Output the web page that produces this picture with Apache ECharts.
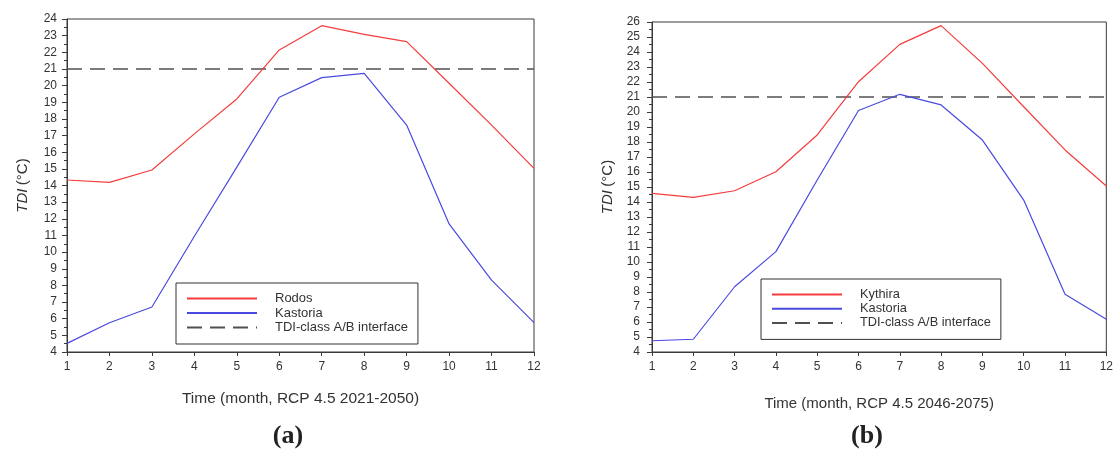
<!DOCTYPE html>
<html>
<head>
<meta charset="utf-8">
<script src="https://cdn.jsdelivr.net/npm/echarts@6/dist/echarts.min.js"></script>
<style>
  html, body { margin: 0; padding: 0; background: #fff; }
  #chart { width: 1116px; height: 449px; }
</style>
</head>
<body>
<div id="chart"></div>
<script>
// Monthly TDI values (°C), RCP 4.5
const months = [1, 2, 3, 4, 5, 6, 7, 8, 9, 10, 11, 12];

// Panel (a): 2021-2050
const rodos      = [14.33, 14.19, 14.93, 17.10, 19.20, 22.14, 23.60, 23.08, 22.64, 20.14, 17.63, 15.03];
const kastoriaA  = [4.52, 5.76, 6.70, 10.95, 15.10, 19.30, 20.48, 20.74, 17.63, 11.69, 8.32, 5.76];

// Panel (b): 2046-2075
const kythira    = [14.58, 14.31, 14.75, 16.02, 18.47, 22.02, 24.51, 25.76, 23.24, 20.35, 17.47, 15.07];
const kastoriaB  = [4.75, 4.85, 8.35, 10.69, 15.47, 20.10, 21.18, 20.47, 18.13, 14.13, 7.85, 6.18];

// TDI-class A/B interface
const classLimit = 21;

// Axis ranges
const xRange  = [1, 12];
const yRangeA = [4, 24];
const yRangeB = [4, 26];

const xTitleA = 'Time (month, RCP 4.5 2021-2050)';
const xTitleB = 'Time (month, RCP 4.5 2046-2075)';
const limitName = 'TDI-class A/B interface';

const RED = '#f53c3c';
const BLUE = '#4a4ae0';
const DASH = '#505050';
const AXIS = '#3a3a3a';
const FONT = '"Liberation Sans", Arial, sans-serif';

const pairs = (ys) => months.map((m, i) => [m, ys[i]]);

function xAxisCfg(grid, title, fs, gap) {
  return {
    type: 'value', gridIndex: grid, min: xRange[0], max: xRange[1], interval: 1,
    name: title, nameLocation: 'middle', nameGap: gap,
    nameTextStyle: { fontFamily: FONT, fontSize: fs, color: '#333' },
    axisLine: { show: true, lineStyle: { color: AXIS, width: 1 } },
    axisTick: { show: true, inside: false, length: 4, lineStyle: { color: AXIS } },
    axisLabel: { fontFamily: FONT, fontSize: 12, color: '#333', margin: 9 },
    splitLine: { show: false }
  };
}

function yAxisCfg(grid, range, fs, margin) {
  return {
    type: 'value', gridIndex: grid, min: range[0], max: range[1], interval: 1,
    name: '{i|TDI} {n|(°C)}', nameLocation: 'middle', nameGap: 37, nameRotate: 90,
    nameTextStyle: {
      rich: {
        i: { fontFamily: FONT, fontSize: fs, fontStyle: 'italic', color: '#333' },
        n: { fontFamily: FONT, fontSize: fs, color: '#333' }
      }
    },
    axisLine: { show: true, lineStyle: { color: AXIS, width: 1 } },
    axisTick: { show: true, inside: false, length: 5, lineStyle: { color: AXIS } },
    minorTick: { show: true, splitNumber: 2, length: 3, lineStyle: { color: AXIS } },
    axisLabel: { fontFamily: FONT, fontSize: 12, color: '#333', margin: margin },
    splitLine: { show: false }
  };
}

function lineSeries(name, grid, ys, color) {
  return {
    name, type: 'line', xAxisIndex: grid, yAxisIndex: grid,
    data: pairs(ys), symbol: 'none', smooth: false,
    lineStyle: { color, width: 1.2 }, itemStyle: { color },
    emphasis: { disabled: true }, animation: false
  };
}

function limitSeries(grid) {
  return {
    name: limitName, type: 'line', xAxisIndex: grid, yAxisIndex: grid,
    data: months.map(m => [m, classLimit]), symbol: 'none',
    lineStyle: { color: DASH, width: 1.5, type: [15, 8] }, itemStyle: { color: DASH },
    emphasis: { disabled: true }, animation: false, z: 1
  };
}

function legendCfg(names, left, top, fs, gap, textPad) {
  return {
    data: names, orient: 'vertical', left, top,
    itemWidth: 70, itemHeight: 10, itemGap: gap,
    padding: [9, 10, 10, 10],
    borderColor: '#333', borderWidth: 1, backgroundColor: '#fff',
    itemStyle: { opacity: 0 },
    textStyle: { fontFamily: FONT, fontSize: fs, color: '#333', padding: [0, 0, 0, textPad] },
    selectedMode: false
  };
}

const captionRich = {
  p: { fontFamily: '"Liberation Serif", serif', fontSize: 26, color: '#222' },
  b: { fontFamily: '"Liberation Serif", serif', fontSize: 26, fontWeight: 'bold', color: '#222' }
};

const chart = echarts.init(document.getElementById('chart'), null, { renderer: 'canvas' });
chart.setOption({
  animation: false,
  backgroundColor: '#fff',
  grid: [
    { left: 67, right: 582, top: 19, bottom: 97, show: true, borderColor: AXIS, borderWidth: 1 },
    { left: 652, right: 8, top: 22, bottom: 97, show: true, borderColor: AXIS, borderWidth: 1 }
  ],
  xAxis: [xAxisCfg(0, xTitleA, 15.5, 39), xAxisCfg(1, xTitleB, 15, 44)],
  yAxis: [yAxisCfg(0, yRangeA, 15, 10), yAxisCfg(1, yRangeB, 15, 12)],
  legend: [
    legendCfg(['Rodos', 'Kastoria', limitName], 176, 283, 13, 1.5, 13),
    legendCfg(['Kythira', 'Kastoria', limitName], 761, 279, 12.8, 1.2, 13)
  ],
  title: [
    { text: '{p|(}{b|a}{p|)}', left: 283, top: 418, textAlign: 'center', textStyle: { rich: captionRich } },
    { text: '{p|(}{b|b}{p|)}', left: 862, top: 418, textAlign: 'center', textStyle: { rich: captionRich } }
  ],
  series: [
    limitSeries(0),
    lineSeries('Rodos', 0, rodos, RED),
    lineSeries('Kastoria', 0, kastoriaA, BLUE),
    limitSeries(1),
    lineSeries('Kythira', 1, kythira, RED),
    lineSeries('Kastoria', 1, kastoriaB, BLUE)
  ]
});
</script>
</body>
</html>
